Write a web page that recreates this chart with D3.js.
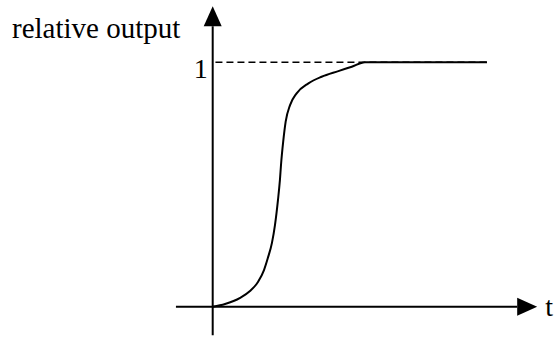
<html>
    <head>
        <script src="https://d3js.org/d3.v7.min.js"></script>
        <style>
            body{ margin:0; background:white; }
            text{ font-family:"Liberation Serif","Times New Roman",serif; fill:black; }
        </style>
    </head>
    <body>
        <svg id="svg" width="555" height="339"></svg>
        <script>
            // curve values (t in arbitrary units, output relative to 1)
            var t_values = [0, 0.45, 1.0, 1.36, 1.65, 1.87, 2.01, 2.16, 2.27, 2.38, 2.45, 2.49, 2.57, 2.66, 2.82, 3.06, 3.49, 3.97, 4.58, 5.07, 5.55, 10];
            var output_values = [0, 0.011, 0.036, 0.064, 0.101, 0.150, 0.199, 0.261, 0.334, 0.437, 0.518, 0.580, 0.675, 0.757, 0.825, 0.873, 0.914, 0.941, 0.964, 0.982, 1, 1];
            var y_tick_values = [1];
            var y_tick_labels = ["1"];
            var x_axis_label = "t";
            var y_axis_label = "relative output";

            var svg = d3.select("svg");
            var x = d3.scaleLinear().domain([0, 10]).range([212.7, 487]);
            var y = d3.scaleLinear().domain([0, 1]).range([306.7, 62.3]);

            var x_extent = [-1.34, 11.1];
            var y_extent = [-0.117, 1.148];
            var arrow_len = 20, arrow_half = 9;

            // x axis + arrow
            svg.append("line")
                .attr("x1", x(x_extent[0])).attr("y1", y(0))
                .attr("x2", x(x_extent[1])).attr("y2", y(0))
                .attr("stroke", "black").attr("stroke-width", 2);
            var xe = x(x_extent[1]);
            svg.append("path")
                .attr("d", "M" + xe + "," + (y(0) - arrow_half) + "L" + (xe + arrow_len) + "," + y(0) + "L" + xe + "," + (y(0) + arrow_half) + "Z")
                .attr("fill", "black");

            // y axis + arrow
            svg.append("line")
                .attr("x1", x(0)).attr("y1", y(y_extent[0]))
                .attr("x2", x(0)).attr("y2", y(y_extent[1]))
                .attr("stroke", "black").attr("stroke-width", 2);
            var ye = y(y_extent[1]);
            svg.append("path")
                .attr("d", "M" + (x(0) - arrow_half) + "," + ye + "L" + x(0) + "," + (ye - arrow_len) + "L" + (x(0) + arrow_half) + "," + ye + "Z")
                .attr("fill", "black");

            // dashed reference level
            svg.selectAll(".ref").data(y_tick_values).enter().append("line")
                .attr("x1", x(0.1)).attr("x2", x(10))
                .attr("y1", function(d){ return y(d); }).attr("y2", function(d){ return y(d); })
                .attr("stroke", "black").attr("stroke-width", 1.6)
                .attr("stroke-dasharray", "7,4");

            svg.selectAll(".ytick").data(y_tick_values).enter().append("text")
                .attr("x", x(0) - 5).attr("y", function(d){ return y(d) + 16; })
                .attr("text-anchor", "end")
                .attr("font-size", 28)
                .text(function(d, i){ return y_tick_labels[i]; });

            // response curve
            var pts = t_values.map(function(t, i){ return [t, output_values[i]]; });
            var line = d3.line()
                .x(function(d){ return x(d[0]); })
                .y(function(d){ return y(d[1]); })
                .curve(d3.curveMonotoneX);
            svg.append("path")
                .attr("d", line(pts))
                .attr("fill", "none")
                .attr("stroke", "black")
                .attr("stroke-width", 2);

            // labels
            svg.append("text")
                .attr("x", 12).attr("y", 38)
                .attr("font-size", 29)
                .text(y_axis_label);
            svg.append("text")
                .attr("x", xe + arrow_len + 8).attr("y", y(0) + 9)
                .attr("font-size", 28)
                .text(x_axis_label);
        </script>
    </body>
</html>
